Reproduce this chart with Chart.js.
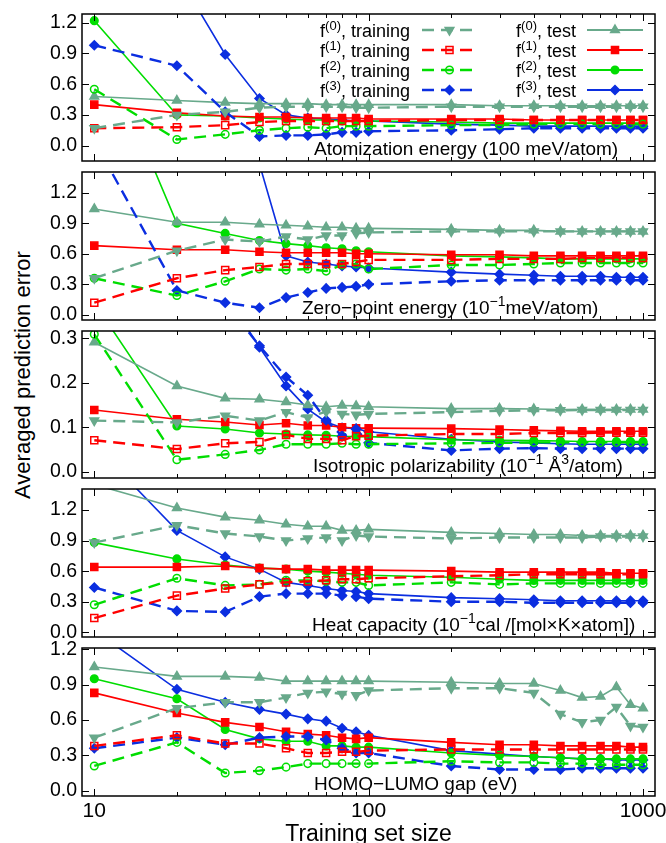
<!DOCTYPE html>
<html>
<head>
<meta charset="utf-8">
<script src="https://cdn.jsdelivr.net/npm/chart.js@4.4.1/dist/chart.umd.min.js"></script>
<style>
body { margin: 0; background: #fff; }
#wrap { position: relative; width: 666px; height: 843px; overflow: hidden; font-family: "Liberation Sans", Arial, sans-serif; }
#wrap canvas { position: absolute; left: 0; }
#ytitle { position: absolute; left: 23px; top: 375px; transform: translate(-50%, -50%) rotate(-90deg); font-size: 22px; white-space: nowrap; color: #000; }
</style>
</head>
<body>
<div id="wrap"><div id="ytitle">Averaged prediction error</div></div>
<script>
// training set sizes (x axis)
var sizes = [10,20,30,40,50,60,70,80,90,100,200,300,400,500,600,700,800,900,1000];

// atomization energy
var ae_f0_train = [0.17,0.30,0.33,0.37,0.38,0.38,0.38,0.38,0.37,0.37,0.38,0.38,0.38,0.38,0.38,0.38,0.38,0.38,0.38];
var ae_f1_train = [0.17,0.18,0.20,0.23,0.24,0.24,0.24,0.24,0.24,0.24,0.25,0.25,0.25,0.25,0.25,0.25,0.25,0.25,0.25];
var ae_f2_train = [0.55,0.06,0.11,0.15,0.17,0.18,0.17,0.19,0.19,0.19,0.20,0.20,0.21,0.21,0.21,0.21,0.21,0.21,0.21];
var ae_f3_train = [0.98,0.78,0.33,0.09,0.10,0.10,0.11,0.13,0.13,0.14,0.15,0.16,0.17,0.17,0.17,0.17,0.17,0.17,0.17];
var ae_f0_test  = [0.48,0.44,0.42,0.41,0.41,0.41,0.40,0.40,0.40,0.40,0.40,0.39,0.39,0.39,0.39,0.39,0.39,0.39,0.39];
var ae_f1_test  = [0.40,0.32,0.29,0.28,0.28,0.27,0.27,0.27,0.27,0.26,0.26,0.26,0.25,0.25,0.25,0.25,0.25,0.25,0.25];
var ae_f2_test  = [1.22,0.30,0.29,0.27,0.26,0.25,0.25,0.24,0.24,0.24,0.23,0.22,0.22,0.22,0.22,0.22,0.22,0.22,0.22];
var ae_f3_test  = [2.60,1.68,0.89,0.46,0.30,0.27,0.26,0.25,0.24,0.24,0.21,0.20,0.19,0.19,0.19,0.19,0.19,0.19,0.19];

// zero-point energy
var zpe_f0_train = [0.36,0.63,0.74,0.72,0.77,0.74,0.78,0.78,0.80,0.81,0.82,0.82,0.82,0.82,0.82,0.82,0.82,0.82,0.82];
var zpe_f1_train = [0.12,0.36,0.44,0.47,0.50,0.50,0.50,0.50,0.52,0.54,0.54,0.55,0.55,0.55,0.56,0.56,0.56,0.56,0.56];
var zpe_f2_train = [0.36,0.19,0.33,0.45,0.44,0.45,0.43,0.49,0.50,0.45,0.49,0.49,0.50,0.51,0.51,0.51,0.51,0.51,0.51];
var zpe_f3_train = [1.71,0.24,0.12,0.07,0.17,0.22,0.26,0.27,0.28,0.30,0.33,0.34,0.34,0.34,0.34,0.34,0.34,0.34,0.34];
var zpe_f0_test  = [1.04,0.91,0.91,0.89,0.88,0.87,0.86,0.86,0.85,0.85,0.84,0.83,0.83,0.82,0.82,0.82,0.82,0.82,0.82];
var zpe_f1_test  = [0.68,0.64,0.64,0.62,0.61,0.61,0.61,0.61,0.60,0.60,0.59,0.59,0.58,0.58,0.58,0.58,0.58,0.58,0.58];
var zpe_f2_test  = [2.82,0.90,0.80,0.73,0.70,0.68,0.66,0.65,0.63,0.62,0.58,0.57,0.56,0.55,0.55,0.55,0.55,0.55,0.55];
var zpe_f3_test  = [3.20,2.40,1.90,1.48,0.58,0.52,0.50,0.48,0.47,0.46,0.42,0.40,0.39,0.38,0.38,0.38,0.37,0.37,0.37];

// isotropic polarizability
var pol_f0_train = [0.115,0.111,0.126,0.115,0.134,0.122,0.135,0.130,0.128,0.130,0.134,0.137,0.138,0.138,0.139,0.139,0.139,0.139,0.139];
var pol_f1_train = [0.071,0.051,0.064,0.067,0.083,0.074,0.074,0.071,0.080,0.081,0.085,0.085,0.087,0.087,0.087,0.088,0.088,0.088,0.088];
var pol_f2_train = [0.309,0.027,0.039,0.049,0.062,0.062,0.062,0.064,0.062,0.062,0.064,0.065,0.066,0.066,0.066,0.066,0.066,0.066,0.066];
var pol_f3_train = [0.90,0.60,0.38,0.283,0.213,0.172,0.116,0.080,0.096,0.065,0.048,0.052,0.053,0.052,0.052,0.052,0.052,0.052,0.052];
var pol_f0_test  = [0.291,0.193,0.165,0.163,0.157,0.150,0.146,0.149,0.148,0.146,0.142,0.142,0.141,0.140,0.140,0.140,0.140,0.140,0.140];
var pol_f1_test  = [0.139,0.118,0.112,0.105,0.109,0.104,0.104,0.100,0.098,0.098,0.097,0.095,0.093,0.092,0.091,0.091,0.091,0.091,0.091];
var pol_f2_test  = [0.38,0.103,0.096,0.087,0.085,0.083,0.082,0.080,0.079,0.079,0.072,0.071,0.070,0.069,0.068,0.068,0.068,0.068,0.068];
var pol_f3_test  = [0.90,0.60,0.40,0.280,0.193,0.141,0.112,0.099,0.097,0.090,0.073,0.067,0.065,0.063,0.062,0.062,0.062,0.062,0.062];

// heat capacity
var hc_f0_train = [0.88,1.05,0.97,0.94,0.90,0.92,0.93,0.90,0.95,0.94,0.92,0.93,0.93,0.93,0.93,0.94,0.94,0.94,0.94];
var hc_f1_train = [0.14,0.36,0.43,0.47,0.49,0.50,0.51,0.52,0.52,0.53,0.55,0.56,0.57,0.57,0.57,0.57,0.57,0.57,0.57];
var hc_f2_train = [0.27,0.53,0.46,0.47,0.51,0.51,0.50,0.49,0.49,0.46,0.49,0.47,0.48,0.48,0.48,0.48,0.48,0.48,0.48];
var hc_f3_train = [0.44,0.21,0.20,0.35,0.38,0.38,0.38,0.36,0.35,0.33,0.30,0.30,0.29,0.29,0.29,0.29,0.29,0.29,0.29];
var hc_f0_test  = [1.45,1.22,1.13,1.10,1.06,1.04,1.04,1.00,1.00,1.01,0.98,0.97,0.96,0.96,0.95,0.95,0.95,0.95,0.95];
var hc_f1_test  = [0.64,0.64,0.65,0.63,0.62,0.62,0.61,0.61,0.61,0.61,0.60,0.59,0.59,0.59,0.59,0.59,0.58,0.58,0.58];
var hc_f2_test  = [0.88,0.72,0.66,0.63,0.62,0.60,0.59,0.58,0.57,0.56,0.54,0.52,0.51,0.51,0.51,0.51,0.51,0.51,0.51];
var hc_f3_test  = [1.84,1.00,0.74,0.62,0.49,0.46,0.43,0.41,0.40,0.38,0.34,0.33,0.32,0.31,0.31,0.31,0.31,0.31,0.31];

// HOMO-LUMO gap
var gap_f0_train = [0.45,0.70,0.75,0.75,0.79,0.83,0.84,0.82,0.81,0.85,0.87,0.87,0.83,0.65,0.58,0.60,0.71,0.55,0.54];
var gap_f1_train = [0.38,0.47,0.40,0.40,0.36,0.32,0.32,0.33,0.33,0.34,0.35,0.35,0.35,0.35,0.35,0.35,0.35,0.35,0.35];
var gap_f2_train = [0.21,0.41,0.15,0.17,0.20,0.23,0.23,0.23,0.23,0.23,0.25,0.24,0.24,0.23,0.23,0.22,0.22,0.22,0.22];
var gap_f3_train = [0.36,0.45,0.39,0.45,0.46,0.46,0.43,0.36,0.32,0.32,0.21,0.18,0.18,0.18,0.19,0.19,0.19,0.19,0.19];
var gap_f0_test  = [1.05,0.97,0.97,0.96,0.93,0.93,0.93,0.93,0.93,0.93,0.92,0.91,0.91,0.85,0.79,0.80,0.88,0.73,0.70];
var gap_f1_test  = [0.83,0.66,0.58,0.54,0.50,0.48,0.47,0.45,0.44,0.45,0.41,0.39,0.39,0.38,0.38,0.38,0.38,0.37,0.37];
var gap_f2_test  = [0.95,0.78,0.52,0.44,0.42,0.42,0.38,0.38,0.37,0.37,0.32,0.30,0.29,0.28,0.27,0.27,0.27,0.27,0.27];
var gap_f3_test  = [1.36,0.86,0.75,0.69,0.65,0.61,0.59,0.53,0.50,0.47,0.34,0.31,0.29,0.28,0.27,0.27,0.26,0.26,0.26];

var yTicksEnergy = [0, 0.3, 0.6, 0.9, 1.2];
var yTicksPol = [0, 0.1, 0.2, 0.3];
var xLabelTicks = [10, 100, 1000];

var FONT = '"Liberation Sans", Arial, sans-serif';
Chart.defaults.font.family = FONT;
Chart.defaults.color = '#000';

var teal = '#68a98b', red = '#ff0000', green = '#00dd00', blue = '#0b2ee0';
var styles = [
  { name: 'training', n: 0, color: teal,  point: 'triangle', rot: 180, r: 5,   open: false, dash: true },
  { name: 'training', n: 1, color: red,   point: 'rect',     rot: 0,   r: 5,   open: true,  dash: true },
  { name: 'training', n: 2, color: green, point: 'circle',   rot: 0,   r: 3.8, open: true,  dash: true },
  { name: 'training', n: 3, color: blue,  point: 'rectRot',  rot: 0,   r: 4.5, open: false, dash: true },
  { name: 'test',     n: 0, color: teal,  point: 'triangle', rot: 0,   r: 5,   open: false, dash: false },
  { name: 'test',     n: 1, color: red,   point: 'rect',     rot: 0,   r: 5,   open: false, dash: false },
  { name: 'test',     n: 2, color: green, point: 'circle',   rot: 0,   r: 3.8, open: false, dash: false },
  { name: 'test',     n: 3, color: blue,  point: 'rectRot',  rot: 0,   r: 4.5, open: false, dash: false }
];

var panels = [
  { top: 14,  bottom: 161, min: -0.15,  max: 1.285, ticks: yTicksEnergy, labelX: 314, legend: true,
    label: [['Atomization energy (100 meV/atom)']],
    series: [ae_f0_train, ae_f1_train, ae_f2_train, ae_f3_train, ae_f0_test, ae_f1_test, ae_f2_test, ae_f3_test] },
  { top: 172, bottom: 320, min: -0.05,  max: 1.403, ticks: yTicksEnergy, labelX: 302,
    label: [['Zero\u2212point energy (10'], ['\u22121', 1], ['meV/atom)']],
    series: [zpe_f0_train, zpe_f1_train, zpe_f2_train, zpe_f3_train, zpe_f0_test, zpe_f1_test, zpe_f2_test, zpe_f3_test] },
  { top: 331, bottom: 478, min: -0.014, max: 0.3164, ticks: yTicksPol, labelX: 313,
    label: [['Isotropic polarizability (10'], ['\u22121', 1], [' \u00c5'], ['3', 1], ['/atom)']],
    series: [pol_f0_train, pol_f1_train, pol_f2_train, pol_f3_train, pol_f0_test, pol_f1_test, pol_f2_test, pol_f3_test] },
  { top: 489, bottom: 637, min: -0.046, max: 1.406, ticks: yTicksEnergy, labelX: 312,
    label: [['Heat capacity (10'], ['\u22121', 1], ['cal /[mol\u00d7K\u00d7atom])']],
    series: [hc_f0_train, hc_f1_train, hc_f2_train, hc_f3_train, hc_f0_test, hc_f1_test, hc_f2_test, hc_f3_test] },
  { top: 648, bottom: 796, min: -0.045, max: 1.211, ticks: yTicksEnergy, labelX: 314, last: true,
    label: [['HOMO\u2212LUMO gap (eV)']],
    series: [gap_f0_train, gap_f1_train, gap_f2_train, gap_f3_train, gap_f0_test, gap_f1_test, gap_f2_test, gap_f3_test] }
];

// text with superscript pieces: segs = [[text, isSup], ...]
function drawRich(ctx, x, y, segs, size, align) {
  var big = size + 'px ' + FONT, small = Math.round(size * 0.72) + 'px ' + FONT;
  var w = 0;
  segs.forEach(function (s) { ctx.font = s[1] ? small : big; w += ctx.measureText(s[0]).width; });
  var cx = align === 'right' ? x - w : x;
  ctx.fillStyle = '#000';
  ctx.textAlign = 'left';
  ctx.textBaseline = 'alphabetic';
  segs.forEach(function (s) {
    ctx.font = s[1] ? small : big;
    ctx.fillText(s[0], cx, s[1] ? y - size * 0.4 : y);
    cx += ctx.measureText(s[0]).width;
  });
}

function drawMarker(ctx, st, x, y) {
  ctx.setLineDash([]);
  ctx.lineWidth = 1.5;
  ctx.strokeStyle = st.color;
  ctx.fillStyle = st.open ? 'rgba(255,255,255,0)' : st.color;
  Chart.helpers.drawPoint(ctx, { pointStyle: st.point, rotation: st.rot, radius: st.r, borderWidth: 1.5 }, x, y);
}

function drawLegend(ctx) {
  styles.forEach(function (st, i) {
    var col = i < 4 ? 0 : 1, row = i % 4;
    var y = 30 + row * 20;
    var textRight = col ? 576 : 410;
    var x1 = col ? 587 : 422, x2 = col ? 643 : 477;
    drawRich(ctx, textRight, y + 7, [['f'], ['(' + st.n + ')', 1], [', ' + st.name]], 18, 'right');
    ctx.save();
    ctx.strokeStyle = st.color;
    ctx.lineWidth = st.dash ? 2.4 : 1.8;
    ctx.setLineDash(st.dash ? [12, 7] : []);
    ctx.beginPath();
    ctx.moveTo(x1, y); ctx.lineTo(x2, y);
    ctx.stroke();
    drawMarker(ctx, st, (x1 + x2) / 2, y);
    ctx.restore();
  });
}

// box, inward tick marks, panel caption and legend
var framePlugin = {
  id: 'frame',
  afterDraw: function (chart, args, opts) {
    var ctx = chart.ctx, a = chart.chartArea, xs = chart.scales.x, ys = chart.scales.y;
    ctx.save();
    ctx.strokeStyle = '#000';
    ctx.lineWidth = 1;
    ctx.beginPath();
    sizes.forEach(function (v) {
      var px = Math.round(xs.getPixelForValue(v)) + 0.5;
      var len = xLabelTicks.indexOf(v) >= 0 ? 7 : 4;
      ctx.moveTo(px, a.bottom); ctx.lineTo(px, a.bottom - len);
      ctx.moveTo(px, a.top); ctx.lineTo(px, a.top + len);
    });
    ys.ticks.forEach(function (t) {
      var py = Math.round(ys.getPixelForValue(t.value)) + 0.5;
      ctx.moveTo(a.left, py); ctx.lineTo(a.left + 7, py);
      ctx.moveTo(a.right, py); ctx.lineTo(a.right - 7, py);
    });
    ctx.stroke();
    ctx.lineWidth = 1.5;
    ctx.strokeRect(a.left, a.top, a.right - a.left, a.bottom - a.top);
    drawRich(ctx, opts.labelX, a.bottom - 6, opts.label, 19, 'left');
    if (opts.legend) drawLegend(ctx);
    ctx.restore();
  }
};

var wrap = document.getElementById('wrap');
panels.forEach(function (p) {
  var padTop = p.top < 20 ? p.top : 20;
  var padBottom = p.last ? 0 : 20;
  var height = p.last ? 843 - (p.top - padTop) : (p.bottom - p.top) + padTop + padBottom;
  var canvas = document.createElement('canvas');
  canvas.width = 666;
  canvas.height = height;
  canvas.style.top = (p.top - padTop) + 'px';
  wrap.appendChild(canvas);

  var datasets = p.series.map(function (vals, i) {
    var st = styles[i];
    return {
      label: 'f' + st.n + ' ' + st.name,
      data: sizes.map(function (x, k) { return { x: x, y: vals[k] }; }),
      borderColor: st.color,
      borderWidth: st.dash ? 2.4 : 1.6,
      borderDash: st.dash ? [12, 7] : [],
      backgroundColor: st.color,
      pointStyle: st.point,
      pointRotation: st.rot,
      pointRadius: st.r,
      pointBorderWidth: 1.5,
      pointBorderColor: st.color,
      pointBackgroundColor: st.open ? 'rgba(255,255,255,0)' : st.color,
      tension: 0,
      fill: false
    };
  });

  new Chart(canvas, {
    type: 'line',
    data: { datasets: datasets },
    plugins: [framePlugin],
    options: {
      responsive: false,
      animation: false,
      events: [],
      layout: { padding: { top: padTop, bottom: padBottom, left: 0, right: 11 } },
      plugins: {
        legend: { display: false },
        tooltip: { enabled: false },
        frame: { labelX: p.labelX, label: p.label, legend: !!p.legend }
      },
      scales: {
        x: {
          type: 'logarithmic',
          min: 9.02,
          max: 1106,
          display: !!p.last,
          afterBuildTicks: function (s) { s.ticks = xLabelTicks.map(function (v) { return { value: v }; }); },
          ticks: { autoSkip: false, maxRotation: 0, padding: 3, font: { size: 21 }, callback: function (v) { return String(v); } },
          grid: { display: false, drawTicks: false },
          border: { display: false },
          title: { display: true, text: 'Training set size', font: { size: 23, lineHeight: 1.2 }, padding: { top: 0, bottom: -5 } },
          afterFit: function (s) {
            if (p.last) s.height = 47;
            s.paddingLeft = 0;
            s.paddingRight = 0;
          }
        },
        y: {
          min: p.min,
          max: p.max,
          afterBuildTicks: function (s) { s.ticks = p.ticks.map(function (v) { return { value: v }; }); },
          ticks: { padding: 5, font: { size: 19.5 }, callback: function (v) { return v.toFixed(1); } },
          grid: { display: false, drawTicks: false },
          border: { display: false },
          afterFit: function (s) { s.width = 82; s.paddingTop = 0; s.paddingBottom = 0; }
        }
      }
    }
  });
});
</script>
</body>
</html>
